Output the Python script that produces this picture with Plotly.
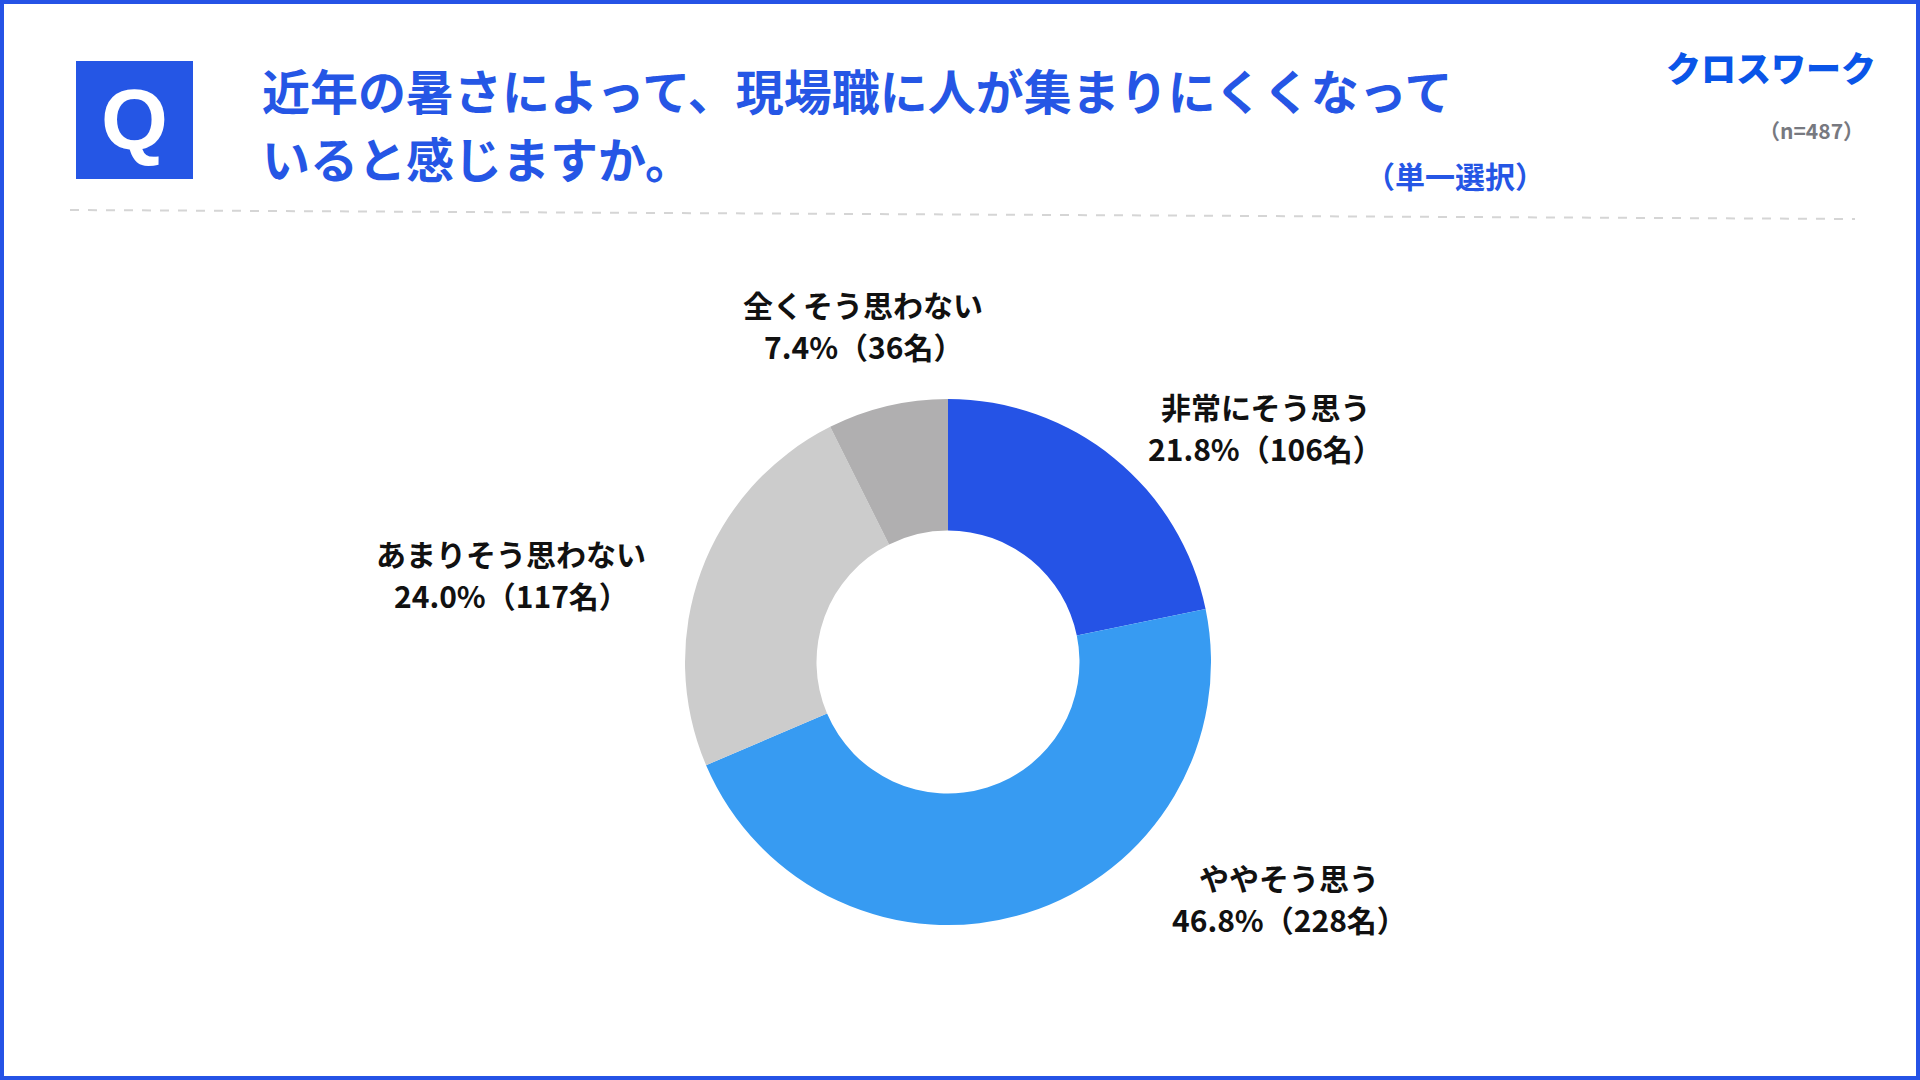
import plotly.graph_objects as go

# survey data
categories = ["非常にそう思う", "ややそう思う", "あまりそう思わない", "全くそう思わない"]
counts = [106, 228, 117, 36]
percents = [21.8, 46.8, 24.0, 7.4]
slice_colors = ["#2553E6", "#379BF2", "#CCCCCC", "#B0AFB0"]

title_lines = ["近年の暑さによって、現場職に人が集まりにくくなって", "いると感じますか。"]
note_text = "（単一選択）"
sample_text = "（n=487）"
logo_text = "クロスワーク"

W, H = 1920, 1080
FONT = "Noto Sans CJK JP"
BLUE = "#2556E5"


def px(x):
    return x / W


def py(y):
    return 1 - y / H


fig = go.Figure()

# donut, centre ~(948, 662), radius ~263 px
cx, cy, r = 948, 662, 263
fig.add_trace(go.Pie(
    labels=categories,
    values=counts,
    sort=False,
    direction="clockwise",
    rotation=0,
    hole=0.5,
    marker=dict(colors=slice_colors, line=dict(width=0)),
    textinfo="none",
    hoverinfo="label+value+percent",
    showlegend=False,
    domain=dict(x=[px(cx - r), px(cx + r)], y=[py(cy + r), py(cy - r)]),
))

annotations = []

# slice labels (two lines each, placed around the donut)
label_pos = {
    "非常にそう思う": (1265, 406),
    "ややそう思う": (1289, 877),
    "あまりそう思わない": (511, 553),
    "全くそう思わない": (863, 304),
}
for name, cnt, pct in zip(categories, counts, percents):
    lx, ly = label_pos[name]
    for i, line in enumerate([name, f"{pct:.1f}%（{cnt}名）"]):
        annotations.append(dict(
            x=px(lx), y=py(ly + i * 42), xref="paper", yref="paper",
            text=line, showarrow=False, xanchor="center", yanchor="middle",
            font=dict(family=FONT, size=30, color="#111111", weight="bold"),
        ))

# question title
for i, line in enumerate(title_lines):
    annotations.append(dict(
        x=px(260), y=py(89 + i * 68), xref="paper", yref="paper",
        text=line, showarrow=False, xanchor="left", yanchor="middle",
        font=dict(family=FONT, size=48, color=BLUE, weight="bold"),
    ))

annotations.append(dict(
    x=px(1455), y=py(175), xref="paper", yref="paper",
    text=note_text, showarrow=False, xanchor="center", yanchor="middle",
    font=dict(family=FONT, size=30, color=BLUE, weight="bold"),
))

# Q badge letter
annotations.append(dict(
    x=px(134), y=py(119), xref="paper", yref="paper",
    text="Q", showarrow=False, xanchor="center", yanchor="middle",
    font=dict(family="Liberation Sans", size=86, color="white", weight="bold"),
))

# logo + sample size
annotations.append(dict(
    x=px(1771), y=py(66), xref="paper", yref="paper",
    text=logo_text, showarrow=False, xanchor="center", yanchor="middle",
    font=dict(family=FONT, size=35, color="#0A55E8", weight=900),
))
annotations.append(dict(
    x=px(1811), y=py(130), xref="paper", yref="paper",
    text=sample_text, showarrow=False, xanchor="center", yanchor="middle",
    font=dict(family=FONT, size=21, color="#777980", weight="bold"),
))

shapes = [
    # outer frame
    dict(type="rect", xref="paper", yref="paper",
         x0=px(2), x1=px(W - 2), y0=py(H - 2), y1=py(2),
         line=dict(color="#2553E6", width=4)),
    # Q badge
    dict(type="rect", xref="paper", yref="paper",
         x0=px(76), x1=px(193), y0=py(179), y1=py(61),
         fillcolor=BLUE, line=dict(width=0)),
    # dashed separator
    dict(type="line", xref="paper", yref="paper",
         x0=px(70), x1=px(1855), y0=py(210), y1=py(219),
         line=dict(color="#D5D5D5", width=2, dash="dash")),
]

fig.update_layout(
    width=W, height=H,
    margin=dict(l=0, r=0, t=0, b=0),
    paper_bgcolor="white",
    plot_bgcolor="white",
    annotations=annotations,
    shapes=shapes,
    font=dict(family=FONT),
)

fig.write_html("out.html", config={"displayModeBar": False},
               post_script="document.body.style.margin='0';")
